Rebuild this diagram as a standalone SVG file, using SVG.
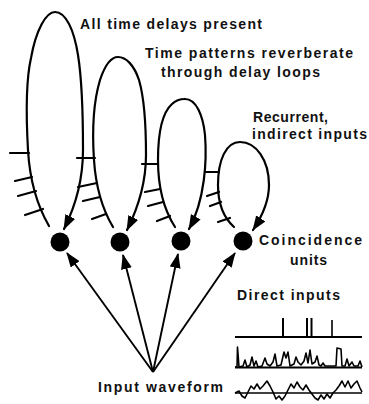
<svg xmlns="http://www.w3.org/2000/svg" width="369" height="404" viewBox="0 0 369 404">
<style>
.bg{fill:#ffffff}
.loop{fill:none;stroke:#000;stroke-width:2.2;stroke-linecap:round}
.tick{fill:none;stroke:#000;stroke-width:2.2;stroke-linecap:round}
.arr{fill:none;stroke:#000;stroke-width:1.9}
.dot{fill:#000}
.t{font-family:"Liberation Sans",Arial,sans-serif;font-weight:bold;font-size:14px;fill:#111}
.w{fill:none;stroke:#000;stroke-width:1.6;stroke-linejoin:round}
.wb{fill:none;stroke:#000;stroke-width:2}
</style>
<defs>
<marker id="ah" viewBox="0 0 15 11" refX="14" refY="5.5" markerWidth="15" markerHeight="11" markerUnits="userSpaceOnUse" orient="auto">
<path d="M0,0 L15,5.5 L0,11 z" fill="#000"/>
</marker>
</defs>
<rect class="bg" x="0" y="0" width="369" height="404"/>

<g id="connectors">
<g id="loops">
<path class="loop" marker-end="url(#ah)" d="M49,226 C38,207 30,185 28,150 C26,115 26,80 31,58 C36,30 46,12 55,12 C66,12 74,30 78,55 C82,80 83,120 83,150 C83,180 76,205 64,229"/>
<path class="loop" marker-end="url(#ah)" d="M113,227 C104,212 96,190 94,160 C92,130 94,100 100,80 C105,65 111,57 118,57 C126,57 134,65 139,80 C144,97 146,125 146,155 C146,185 137,210 127,230"/>
<path class="loop" marker-end="url(#ah)" d="M175,227 C166,213 158,190 158,160 C158,130 163,112 172,104 C176,100 180,99 185,99 C196,99 203,115 205,135 C207,160 205,200 189,229"/>
<path class="loop" marker-end="url(#ah)" d="M234,227 C224,218 218,205 218,185 C218,160 226,142 240,142 C256,142 269,160 269,185 C269,200 263,215 253,230"/>
</g>
<g id="ticks">
<line class="tick" x1="10" y1="153" x2="29" y2="153"/>
<line class="tick" x1="15" y1="181" x2="32" y2="177"/>
<line class="tick" x1="18" y1="196" x2="36" y2="191"/>
<line class="tick" x1="25" y1="215" x2="43" y2="209"/>
<line class="tick" x1="77" y1="158" x2="95" y2="158"/>
<line class="tick" x1="78" y1="187" x2="97" y2="183"/>
<line class="tick" x1="83" y1="201" x2="100" y2="197"/>
<line class="tick" x1="92" y1="219" x2="106" y2="214"/>
<line class="tick" x1="142" y1="164" x2="158" y2="164"/>
<line class="tick" x1="145" y1="192" x2="160" y2="189"/>
<line class="tick" x1="148" y1="206" x2="163" y2="202"/>
<line class="tick" x1="157" y1="221" x2="170" y2="216"/>
<line class="tick" x1="205" y1="172" x2="219" y2="172"/>
<line class="tick" x1="207" y1="196" x2="219" y2="192"/>
<line class="tick" x1="210" y1="206" x2="221" y2="202"/>
<line class="tick" x1="218" y1="222" x2="230" y2="218"/>
</g>
<g id="inputs">
<line class="arr" marker-end="url(#ah)" x1="153" y1="372" x2="67" y2="253"/>
<line class="arr" marker-end="url(#ah)" x1="153" y1="372" x2="123" y2="255"/>
<line class="arr" marker-end="url(#ah)" x1="153" y1="372" x2="178" y2="254"/>
<line class="arr" marker-end="url(#ah)" x1="153" y1="372" x2="235" y2="253"/>
</g>
</g>

<g id="unit1"><circle class="dot" cx="60" cy="242" r="9.5"/></g>
<g id="unit2"><circle class="dot" cx="120" cy="242" r="9.5"/></g>
<g id="unit3"><circle class="dot" cx="181" cy="241" r="9.5"/></g>
<g id="unit4"><circle class="dot" cx="243" cy="241" r="9.5"/></g>

<g id="labels">
<text class="t" x="80" y="29" font-size="15" textLength="182" lengthAdjust="spacing">All time delays present</text>
<text class="t" x="145" y="58" textLength="208" lengthAdjust="spacing">Time patterns reverberate</text>
<text class="t" x="161" y="77" textLength="159" lengthAdjust="spacing">through delay loops</text>
<text class="t" x="253" y="122" textLength="75" lengthAdjust="spacing">Recurrent,</text>
<text class="t" x="252" y="139" textLength="115" lengthAdjust="spacing">indirect inputs</text>
<text class="t" x="259" y="245" textLength="103" lengthAdjust="spacing">Coincidence</text>
<text class="t" x="290" y="265" textLength="37" lengthAdjust="spacing">units</text>
<text class="t" x="237" y="300" textLength="103" lengthAdjust="spacing">Direct inputs</text>
<text class="t" x="98" y="392" textLength="125" lengthAdjust="spacing">Input waveform</text>
</g>

<g id="waveforms">
<g id="spikes">
<line class="wb" x1="235" y1="337" x2="362" y2="337"/>
<line class="wb" x1="283" y1="318" x2="283" y2="337"/>
<line class="wb" x1="307" y1="318" x2="307" y2="337"/>
<line class="wb" x1="311.5" y1="318" x2="311.5" y2="337"/>
<line class="w" x1="332" y1="320" x2="332" y2="337"/>
</g>
<g id="trace2">
<polyline class="w" points="235,367 237,367 237.5,347 239,367 243,366 245,360 247,367 250,365 252,357 254,366 256,361 258,367 262,366 265,358 267,364 270,366 273,362 275,354 277,366 281,365 284,352 286,358 288,352 290,366 294,364 296,357 298,362 301,365 304,361 306,353 308,363 310,350 312,364 315,362 317,356 319,365 321,366 323,363 325,366 329,366 336,366 337,348 341,349 342,366 345,366 347,359 349,366 352,362 354,366 358,366 360,361 362,367"/>
<line class="wb" x1="235" y1="367.5" x2="362" y2="367.5"/>
</g>
<g id="trace3">
<line class="w" x1="235" y1="393" x2="362" y2="393"/>
<polyline class="w" points="235,393 239,391 242,396 245,398 248,392 251,386 254,389 257,384 260,389 263,386 267,381 270,386 273,392 276,399 279,396 282,400 285,396 288,390 291,384 294,388 297,382 300,387 303,390 306,385 309,390 312,394 315,398 318,400 321,395 324,399 327,394 330,398 333,393 336,390 339,386 342,381 345,387 348,381 351,388 354,384 357,381 360,388 362,392"/>
</g>
</g>
</svg>
